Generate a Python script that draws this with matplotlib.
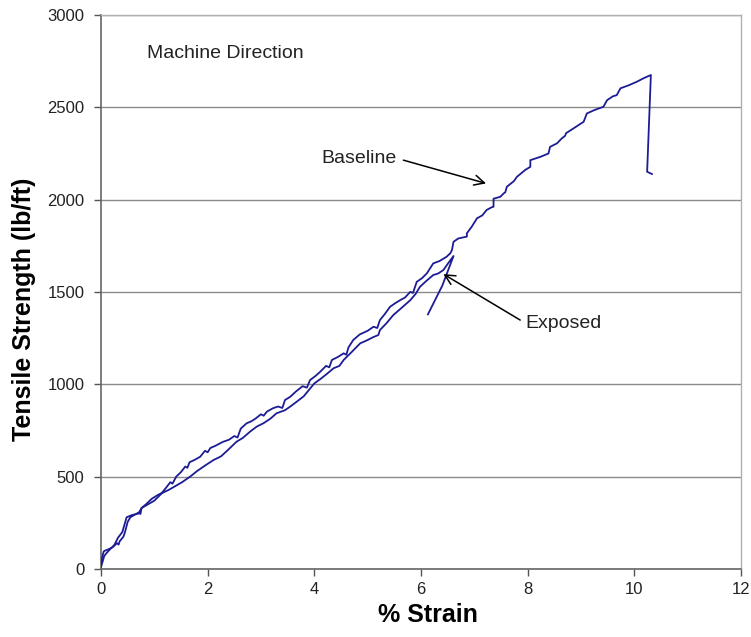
import matplotlib
matplotlib.use("Agg")
import matplotlib.pyplot as plt

plt.rcParams['font.family'] = ['Liberation Sans', 'DejaVu Sans']

# ---- data ----
baseline_x = [0.00, 0.02, 0.05, 0.08, 0.15, 0.22, 0.30, 0.33, 0.35, 0.42,
              0.45, 0.50, 0.55, 0.62, 0.70, 0.74, 0.76, 0.85, 0.95, 1.05,
              1.14, 1.22, 1.30, 1.34, 1.41, 1.50, 1.58, 1.62, 1.66, 1.75,
              1.86, 1.95, 2.00, 2.05, 2.15, 2.29, 2.40, 2.50, 2.56, 2.62,
              2.73, 2.82, 2.90, 3.00, 3.05, 3.11, 3.22, 3.32, 3.40, 3.45,
              3.55, 3.65, 3.78, 3.86, 3.92, 4.02, 4.11, 4.22, 4.28, 4.33,
              4.44, 4.55, 4.60, 4.64, 4.73, 4.85, 5.00, 5.11, 5.18, 5.23,
              5.32, 5.42, 5.52, 5.61, 5.70, 5.80, 5.85, 5.92, 6.02, 6.11,
              6.23, 6.35, 6.48, 6.55, 6.58, 6.61, 6.70, 6.86, 6.86, 6.95,
              7.05, 7.15, 7.23, 7.32, 7.36, 7.36, 7.49, 7.55, 7.58, 7.61,
              7.74, 7.80, 7.95, 8.05, 8.05, 8.24, 8.39, 8.42, 8.55, 8.64,
              8.70, 8.72, 8.86, 9.05, 9.11, 9.25, 9.42, 9.49, 9.60, 9.67,
              9.74, 9.90, 10.05, 10.17, 10.31, 10.24, 10.33]
baseline_y = [20, 60, 95, 100, 108, 118, 140, 132, 150, 175,
              200, 255, 280, 292, 305, 298, 330, 352, 380, 398,
              412, 440, 470, 462, 500, 525, 555, 548, 578, 590,
              608, 640, 632, 655, 668, 689, 700, 720, 712, 760,
              789, 800, 815, 838, 830, 852, 870, 880, 872, 915,
              933, 960, 990, 982, 1023, 1045, 1068, 1100, 1092, 1132,
              1148, 1168, 1160, 1200, 1240, 1270, 1290, 1312, 1305, 1348,
              1380, 1420, 1440, 1456, 1470, 1501, 1495, 1555, 1575, 1601,
              1655, 1668, 1691, 1710, 1727, 1772, 1790, 1800, 1818, 1853,
              1899, 1915, 1944, 1958, 1962, 2005, 2016, 2034, 2040, 2070,
              2100, 2124, 2160, 2178, 2214, 2232, 2250, 2286, 2305, 2332,
              2345, 2360, 2386, 2422, 2467, 2485, 2503, 2539, 2560, 2566,
              2603, 2620, 2639, 2657, 2675, 2151, 2139]

exposed_x = [0.00, 0.03, 0.06, 0.10, 0.18, 0.25, 0.32, 0.36, 0.40, 0.48,
             0.58, 0.70, 0.76, 0.88, 1.00, 1.14, 1.28, 1.40, 1.52, 1.67,
             1.80, 1.95, 2.11, 2.25, 2.40, 2.54, 2.66, 2.80, 2.92, 3.05,
             3.18, 3.29, 3.45, 3.55, 3.67, 3.80, 3.90, 4.00, 4.12, 4.25,
             4.36, 4.47, 4.55, 4.70, 4.86, 5.00, 5.10, 5.20, 5.23, 5.35,
             5.48, 5.62, 5.80, 5.90, 5.98, 6.10, 6.23, 6.32, 6.42, 6.52,
             6.61, 6.40, 6.13]
exposed_y = [10, 40, 70, 85, 110, 130, 170, 185, 200, 280,
             292, 300, 330, 350, 370, 410, 430, 450, 470, 500,
             530, 560, 590, 610, 650, 689, 710, 745, 771, 790,
             815, 843, 860, 880, 906, 935, 970, 1005, 1030, 1060,
             1087, 1100, 1132, 1175, 1222, 1240, 1255, 1267, 1294, 1330,
             1375, 1410, 1456, 1490, 1528, 1560, 1592, 1600, 1619, 1660,
             1695, 1535, 1379]

x_ticks = [0, 2, 4, 6, 8, 10, 12]
y_ticks = [0, 500, 1000, 1500, 2000, 2500, 3000]

# ---- figure ----
fig = plt.figure(figsize=(7.51, 6.37), dpi=100)
ax = fig.add_axes([101/751, 1 - 569/637, 640/751, 554/637])

line_color = '#1c1c94'
ax.plot(baseline_x, baseline_y, color=line_color, lw=1.3, zorder=3)
ax.plot(exposed_x, exposed_y, color=line_color, lw=1.3, zorder=3)

ax.set_xlim(0, 12)
ax.set_ylim(0, 3000)
ax.set_xticks(x_ticks)
ax.set_yticks(y_ticks)
ax.set_xticklabels([str(v) for v in x_ticks])
ax.set_yticklabels([str(v) for v in y_ticks])
ax.tick_params(axis='both', direction='out', length=5, width=1,
               color='#555555', labelsize=12, labelcolor='#222222')
ax.tick_params(axis='y', pad=7)
ax.tick_params(axis='x', pad=4)

ax.grid(axis='y', color='#8a8a8a', lw=1)
ax.set_axisbelow(True)
for s in ['left', 'bottom']:
    ax.spines[s].set_color('#666666')
    ax.spines[s].set_linewidth(1.2)
for s in ['top', 'right']:
    ax.spines[s].set_color('#b0b0b0')
    ax.spines[s].set_linewidth(1.0)

ax.set_xlabel('% Strain', fontsize=18, fontweight='bold')
ax.set_ylabel('Tensile Strength (lb/ft)', fontsize=18, fontweight='bold')
ax.xaxis.set_label_coords(0.511, -0.062)
ax.yaxis.set_label_coords(-0.102, 0.468)

ax.text(0.86, 2794, 'Machine Direction', fontsize=14, color='#222222',
        ha='left', va='center')

ax.text(4.84, 2225, 'Baseline', fontsize=14, color='#222222',
        ha='center', va='center')
ax.annotate('', xy=(7.22, 2088), xytext=(5.67, 2214),
            arrowprops=dict(arrowstyle='->', color='black', lw=1.1,
                            shrinkA=0, shrinkB=0, mutation_scale=18))
ax.text(8.67, 1332, 'Exposed', fontsize=14, color='#222222',
        ha='center', va='center')
ax.annotate('', xy=(6.42, 1597), xytext=(7.86, 1348),
            arrowprops=dict(arrowstyle='->', color='black', lw=1.1,
                            shrinkA=0, shrinkB=0, mutation_scale=18))

fig.savefig('out.png', dpi=100)
